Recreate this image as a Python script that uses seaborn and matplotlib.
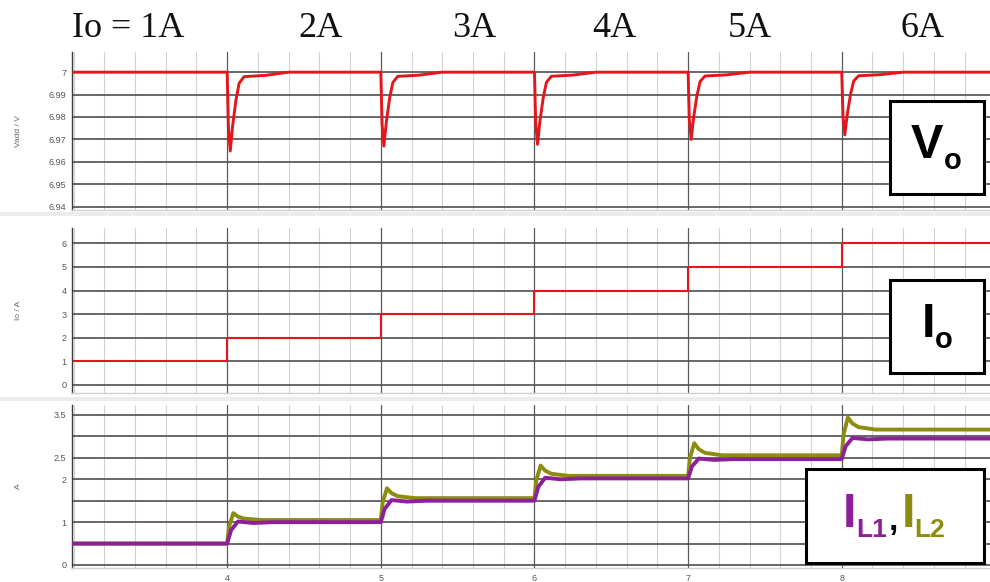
import numpy as np
import pandas as pd
import matplotlib
matplotlib.use("Agg")
import matplotlib.pyplot as plt
from matplotlib.patches import Rectangle
from matplotlib.ticker import MultipleLocator
import seaborn as sns

# ---------------- data ----------------
t_start, t_end = 3.0, 8.965
step_times = [4, 5, 6, 7, 8]
io_levels = [1, 2, 3, 4, 5, 6]
step_labels = ["Io = 1A", "2A", "3A", "4A", "5A", "6A"]

# output voltage: nominal value and undershoot minimum at each load step (V)
vo_nominal = 7.0
vo_dips = [6.9648, 6.9670, 6.9678, 6.9700, 6.9720]
# recovery after a step: time offset (s) and share of the undershoot still present
vo_offsets = [0.0, 0.008, 0.02, 0.035, 0.057, 0.078, 0.11, 0.25, 0.40]
vo_profile = [0.0, 0.7, 1.0, 0.69, 0.355, 0.14, 0.057, 0.04, 0.0]

# inductor currents (A)
il_initial = 0.5
il1_levels = [1.00, 1.50, 2.02, 2.47, 2.95]
il2_levels = [1.05, 1.56, 2.08, 2.56, 3.16]
il2_peaks = [1.21, 1.79, 2.32, 2.84, 3.44]
# IL1 rise: time offset (s) and share of the step completed
il1_offsets = [0.0, 0.025, 0.07, 0.17, 0.30]
il1_profile = [0.0, 0.62, 1.03, 0.96, 1.0]
# IL2 overshoot: rise toward the peak, then decay toward the new level
il2_rise_offsets = [0.0, 0.012, 0.04]
il2_rise = [0.0, 0.55, 1.0]
il2_decay_offsets = [0.07, 0.11, 0.22]
il2_decay = [0.5, 0.2, 0.0]

v_ticks = [6.94, 6.95, 6.96, 6.97, 6.98, 6.99, 7.0]
v_ticklabels = ["6.94", "6.95", "6.96", "6.97", "6.98", "6.99", "7"]
i_ticks = [0, 1, 2, 3, 4, 5, 6]
il_ticks = [0, 0.5, 1, 1.5, 2, 2.5, 3, 3.5]
il_ticklabels = ["0", "", "1", "", "2", "2.5", "", "3.5"]
x_ticks = [4, 5, 6, 7, 8]

# ---------------- build waveforms ----------------
vo_t, vo_v = [t_start], [vo_nominal]
for ts, dip in zip(step_times, vo_dips):
    for off, p in zip(vo_offsets, vo_profile):
        vo_t.append(ts + off)
        vo_v.append(vo_nominal - (vo_nominal - dip) * p)
vo_t.append(t_end)
vo_v.append(vo_nominal)
vo_df = pd.DataFrame({"t": vo_t, "v": vo_v})

io_df = pd.DataFrame({"t": [t_start] + step_times + [t_end],
                      "i": io_levels + [io_levels[-1]]})

il1_t, il1_v = [t_start], [il_initial]
il2_t, il2_v = [t_start], [il_initial]
prev1 = prev2 = il_initial
for ts, l1, l2, pk in zip(step_times, il1_levels, il2_levels, il2_peaks):
    for off, p in zip(il1_offsets, il1_profile):
        il1_t.append(ts + off)
        il1_v.append(prev1 + (l1 - prev1) * p)
    for off, p in zip(il2_rise_offsets, il2_rise):
        il2_t.append(ts + off)
        il2_v.append(prev2 + (pk - prev2) * p)
    for off, p in zip(il2_decay_offsets, il2_decay):
        il2_t.append(ts + off)
        il2_v.append(l2 + (pk - l2) * p)
    prev1, prev2 = l1, l2
il1_t.append(t_end); il1_v.append(prev1)
il2_t.append(t_end); il2_v.append(prev2)
il1_df = pd.DataFrame({"t": il1_t, "i": il1_v})
il2_df = pd.DataFrame({"t": il2_t, "i": il2_v})

# ---------------- figure ----------------
sns.set_style("white")
plt.rcParams["font.family"] = ["Liberation Sans", "DejaVu Sans"]

W, H = 990, 582
fig = plt.figure(figsize=(W / 100, H / 100), dpi=100)


def fx(px):
    return px / W


def fy(py):
    return 1 - py / H


def panel(top, bottom):
    return fig.add_axes([fx(72), fy(bottom), fx(W) - fx(72), fy(top) - fy(bottom)])


RED = "#e4161b"
PURPLE = "#8e1f9a"
OLIVE = "#8c8c12"

ax1 = panel(52, 210)
ax2 = panel(228, 393)
ax3 = panel(405, 568)

sns.lineplot(data=vo_df, x="t", y="v", ax=ax1, color=RED, lw=2.1,
             estimator=None, sort=False, zorder=5)
sns.lineplot(data=io_df, x="t", y="i", ax=ax2, color=RED, lw=1.5,
             drawstyle="steps-post", estimator=None, sort=False, zorder=5)
sns.lineplot(data=il2_df, x="t", y="i", ax=ax3, color=OLIVE, lw=2.8,
             estimator=None, sort=False, zorder=5)
sns.lineplot(data=il1_df, x="t", y="i", ax=ax3, color=PURPLE, lw=2.8,
             estimator=None, sort=False, zorder=6)

ax1.set_ylim(6.9385, 7.009)
ax1.set_yticks(v_ticks)
ax1.set_yticklabels(v_ticklabels)
ax2.set_ylim(-0.34, 6.65)
ax2.set_yticks(i_ticks)
ax3.set_ylim(-0.07, 3.733)
ax3.set_yticks(il_ticks)
ax3.set_yticklabels(il_ticklabels)

for ax in (ax1, ax2, ax3):
    ax.set_xlim(2.99, t_end)
    ax.set_xticks(x_ticks)
    ax.xaxis.set_minor_locator(MultipleLocator(0.2))
    ax.set_xlabel("")
    ax.set_ylabel("")
    ax.set_axisbelow(True)
    ax.grid(which="minor", axis="x", color="#d2d2d2", lw=0.8)
    ax.grid(which="major", axis="x", color="#5a5a5a", lw=0.9)
    ax.grid(which="major", axis="y", color="#4e4e4e", lw=1.2)
    for s in ("top", "right"):
        ax.spines[s].set_visible(False)
    ax.spines["left"].set_color("#3a3a3a")
    ax.spines["left"].set_linewidth(1.0)
    ax.spines["bottom"].set_color("#d0d0d0")
    ax.spines["bottom"].set_linewidth(1.0)
    ax.tick_params(axis="y", which="major", length=3, width=0.8, color="#444",
                   labelsize=6.5, labelcolor="#555", pad=1)
    ax.tick_params(axis="x", which="both", length=0, labelsize=6.5,
                   labelcolor="#555", pad=4)
ax1.tick_params(axis="x", labelbottom=False)
ax2.tick_params(axis="x", labelbottom=False)

# axis names
for text, top, bottom in (("Vadd / V", 52, 210), ("Io / A", 228, 393), ("A", 405, 568)):
    fig.text(fx(18), fy((top + bottom) / 2), text, rotation=90, fontsize=6,
             color="#666", ha="center", va="center")

# separators between panels
for y0, y1 in ((212, 216), (397, 401)):
    fig.add_artist(Rectangle((0, fy(y1)), 1, fy(y0) - fy(y1),
                             transform=fig.transFigure, color="#ececec", lw=0))

# load current labels across the top
label_x = [72, 320, 474, 614, 750, 923]
for lab, px in zip(step_labels, label_x):
    fig.text(fx(px), fy(37), lab, fontsize=26, family="Liberation Serif",
             ha="left" if lab.startswith("Io") else "center", va="baseline",
             color="#111")


def box(x0, y0, x1, y1):
    fig.add_artist(Rectangle((fx(x0), fy(y1)), fx(x1) - fx(x0), fy(y0) - fy(y1),
                             transform=fig.transFigure, fc="white", ec="black",
                             lw=2.2, zorder=10))


def put(px, py, s, size, color="black"):
    fig.text(fx(px), fy(py), s, fontsize=size, fontweight="bold", color=color,
             ha="left", va="baseline", zorder=11)


box(890, 101, 984, 194)
put(911, 158, "V", 35)
put(944, 169, "o", 21)

box(890, 280, 984, 373)
put(922, 337, "I", 35)
put(935, 348, "o", 21)

box(806, 469, 984, 563)
put(843, 527, "I", 35, PURPLE)
put(856, 537, "L1", 19, PURPLE)
put(889, 530, ",", 24)
put(902, 527, "I", 35, OLIVE)
put(914, 537, "L2", 19, OLIVE)

fig.savefig("out.png", dpi=100)
